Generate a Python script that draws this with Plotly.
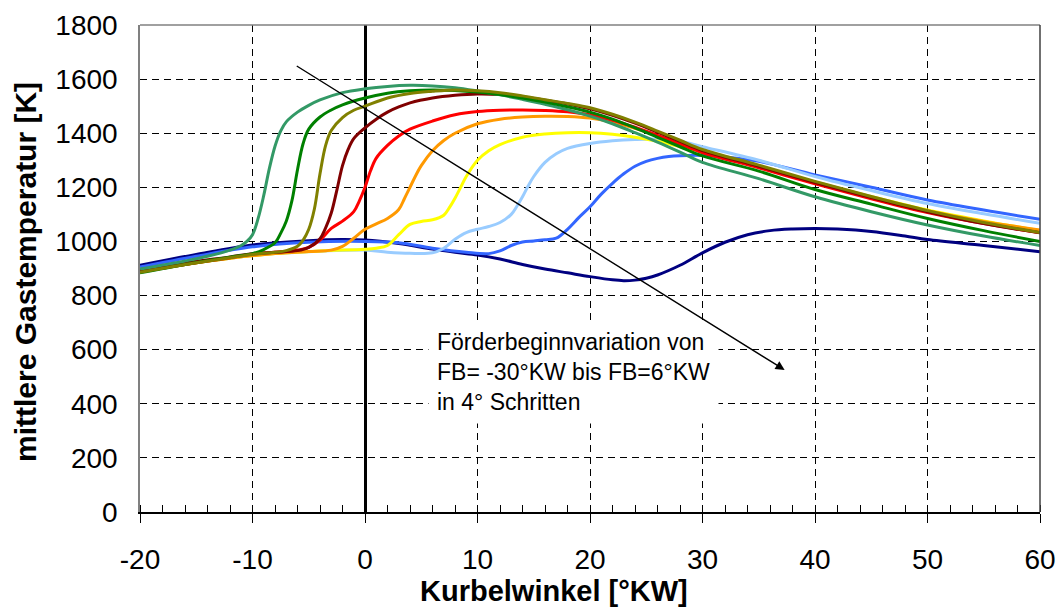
import plotly.graph_objects as go

# ---- data ----
colors = {
    "FB -30": "#339966", "FB -26": "#008000", "FB -22": "#808000", "FB -18": "#800000",
    "FB -14": "#FF0000", "FB -10": "#FF9900", "FB -6": "#FFFF00", "FB -2": "#99CCFF",
    "FB 2": "#3366FF", "FB 6": "#000080",
}

x_fb6 = [-20, -15, -10, -5, -2, 0, 3, 6, 8, 10, 12, 14, 16, 18, 20, 22, 23, 24, 25, 26, 28, 30, 32, 34, 36, 38, 40, 42, 45, 48, 50, 55, 60]
y_fb6 = [912, 952, 987, 1003, 1007, 1005, 992, 972, 960, 950, 935, 915, 898, 884, 870, 858, 855, 857, 864, 876, 912, 958, 997, 1025, 1040, 1046, 1048, 1046, 1037, 1020, 1007, 985, 962]

x_fb2 = [-20, -15, -10, -5, 0, 3, 6, 9, 11, 12, 13, 14, 15, 16, 17, 18, 19, 20, 21, 22, 23, 24, 25, 26, 27, 28, 30, 32, 35, 40, 45, 50, 55, 60]
y_fb2 = [905, 945, 980, 997, 1000, 995, 975, 960, 955, 965, 985, 998, 1002, 1006, 1012, 1045, 1088, 1128, 1175, 1215, 1250, 1278, 1296, 1307, 1314, 1317, 1318, 1312, 1296, 1246, 1200, 1153, 1116, 1082]

x_fbm2 = [-20, -16, -12, -8, -4, 0, 2, 4, 6, 7, 8, 9, 10, 11, 12, 13, 13.5, 14, 14.5, 15, 16, 17, 18, 20, 22, 24, 26, 28, 30, 35, 40, 45, 50, 55, 60]
y_fbm2 = [888, 915, 938, 955, 964, 968, 960, 956, 958, 975, 1008, 1033, 1045, 1055, 1070, 1100, 1130, 1165, 1205, 1240, 1292, 1324, 1344, 1362, 1372, 1377, 1378, 1370, 1350, 1300, 1240, 1188, 1140, 1102, 1067]

x_fbm6 = [-20, -16, -12, -8, -4, 0, 1, 2, 3, 4, 5, 6, 7, 7.5, 8, 8.5, 9, 10, 11, 12, 14, 16, 18, 20, 22, 24, 26, 28, 30, 35, 40, 45, 50, 55, 60]
y_fbm6 = [888, 915, 938, 955, 965, 971, 975, 985, 1025, 1063, 1074, 1080, 1097, 1125, 1160, 1200, 1240, 1300, 1335, 1358, 1385, 1397, 1402, 1402, 1396, 1385, 1370, 1350, 1330, 1275, 1220, 1166, 1116, 1076, 1040]

x_fbm10 = [-20, -16, -12, -8, -5, -3, -2, -1, 0, 1, 2, 3, 3.5, 4, 4.5, 5, 6, 7, 8, 10, 12, 14, 16, 18, 20, 22, 24, 26, 28, 30, 35, 40, 45, 50, 55, 60]
y_fbm10 = [888, 915, 938, 955, 963, 968, 982, 1012, 1045, 1065, 1085, 1118, 1158, 1200, 1243, 1280, 1335, 1373, 1400, 1435, 1452, 1460, 1463, 1462, 1456, 1440, 1418, 1390, 1360, 1332, 1276, 1218, 1163, 1114, 1074, 1042]

x_fbm14 = [-20, -16, -12, -10, -8, -6, -5, -4, -3, -2, -1, -0.5, 0, 0.5, 1, 2, 3, 4, 6, 8, 10, 12, 14, 16, 18, 20, 22, 24, 26, 28, 30, 35, 40, 45, 50, 55, 60]
y_fbm14 = [888, 915, 940, 953, 960, 968, 978, 1005, 1048, 1075, 1110, 1150, 1200, 1262, 1308, 1355, 1390, 1415, 1445, 1468, 1480, 1485, 1486, 1484, 1479, 1468, 1448, 1422, 1392, 1360, 1328, 1272, 1213, 1158, 1107, 1066, 1032]

x_fbm18 = [-20, -16, -12, -10, -8, -6, -5, -4, -3.5, -3, -2.5, -2, -1.5, -1, 0, 1, 2, 3, 4, 6, 8, 10, 12, 14, 16, 18, 20, 22, 24, 26, 28, 30, 35, 40, 45, 50, 55, 60]
y_fbm18 = [893, 920, 943, 955, 960, 966, 978, 1010, 1050, 1105, 1190, 1280, 1340, 1380, 1420, 1452, 1478, 1497, 1512, 1530, 1540, 1545, 1543, 1535, 1522, 1508, 1490, 1466, 1437, 1404, 1370, 1336, 1278, 1218, 1162, 1110, 1066, 1032]

x_fbm22 = [-20, -16, -12, -10, -8, -7, -6, -5.5, -5, -4.5, -4, -3.5, -3, -2, -1, 0, 2, 4, 6, 8, 10, 12, 14, 16, 18, 20, 22, 24, 26, 28, 30, 35, 40, 45, 50, 55, 60]
y_fbm22 = [886, 915, 940, 952, 960, 966, 982, 1005, 1045, 1120, 1250, 1355, 1410, 1458, 1485, 1500, 1530, 1547, 1555, 1560, 1557, 1550, 1538, 1524, 1510, 1494, 1470, 1441, 1408, 1374, 1340, 1282, 1222, 1166, 1114, 1070, 1033]

x_fbm26 = [-20, -16, -12, -10, -9, -8, -7.5, -7, -6.5, -6, -5.5, -5, -4, -3, -2, 0, 2, 4, 6, 8, 10, 12, 14, 16, 18, 20, 22, 24, 26, 28, 30, 35, 40, 45, 50, 55, 60]
y_fbm26 = [884, 915, 942, 955, 970, 995, 1030, 1075, 1150, 1265, 1362, 1415, 1460, 1486, 1505, 1530, 1548, 1557, 1560, 1558, 1552, 1543, 1530, 1515, 1498, 1478, 1452, 1420, 1385, 1350, 1316, 1260, 1192, 1138, 1085, 1040, 1000]

x_fbm30 = [-20, -16, -14, -12, -11, -10.5, -10, -9.5, -9, -8.5, -8, -7.5, -7, -6, -5, -4, -2, 0, 2, 4, 6, 8, 10, 12, 14, 16, 18, 20, 22, 24, 26, 28, 30, 35, 40, 45, 50, 55, 60]
y_fbm30 = [898, 928, 945, 968, 985, 1000, 1025, 1085, 1170, 1270, 1352, 1408, 1442, 1478, 1503, 1523, 1550, 1564, 1573, 1577, 1575, 1568, 1556, 1542, 1525, 1507, 1487, 1463, 1435, 1402, 1367, 1330, 1292, 1232, 1165, 1110, 1061, 1020, 985]

series = [
    ("FB 6", x_fb6, y_fb6),
    ("FB 2", x_fb2, y_fb2),
    ("FB -2", x_fbm2, y_fbm2),
    ("FB -6", x_fbm6, y_fbm6),
    ("FB -10", x_fbm10, y_fbm10),
    ("FB -14", x_fbm14, y_fbm14),
    ("FB -18", x_fbm18, y_fbm18),
    ("FB -30", x_fbm30, y_fbm30),
    ("FB -26", x_fbm26, y_fbm26),
    ("FB -22", x_fbm22, y_fbm22),
]

x_ticks = [-20, -10, 0, 10, 20, 30, 40, 50, 60]
y_ticks = [0, 200, 400, 600, 800, 1000, 1200, 1400, 1600, 1800]

FONT = "Liberation Sans, Arial, sans-serif"

fig = go.Figure()
for name, xs, ys in series:
    fig.add_trace(go.Scatter(
        x=xs, y=ys, mode="lines", name=name,
        line=dict(color=colors[name], width=3, shape="spline", smoothing=1.0),
        showlegend=False, hoverinfo="skip",
    ))

fig.update_layout(
    width=1059, height=611,
    margin=dict(l=140, r=19, t=25, b=99),
    paper_bgcolor="white", plot_bgcolor="white",
    font=dict(family=FONT, color="black", size=28),
    showlegend=False,
)

fig.update_xaxes(
    range=[-20, 60], tickvals=x_ticks, ticktext=[str(v) for v in x_ticks],
    automargin=False,
    showgrid=True, gridcolor="black", gridwidth=1, griddash="7px,5px",
    zeroline=True, zerolinecolor="black", zerolinewidth=3,
    showline=True, linecolor="black", linewidth=1.5,
    ticks="outside", ticklen=9, tickwidth=1.2, tickcolor="black",
    ticklabelstandoff=13,
    minor=dict(dtick=2, ticks="inside", ticklen=7, tickwidth=1, tickcolor="black", showgrid=False),
    tickfont=dict(size=28, family=FONT, color="black"),
)
fig.update_yaxes(
    range=[0, 1800], tickvals=y_ticks, ticktext=[str(v) for v in y_ticks],
    automargin=False,
    showgrid=True, gridcolor="black", gridwidth=1, griddash="7px,5px",
    zeroline=False,
    showline=True, linecolor="#808080", linewidth=1.5,
    ticks="outside", ticklen=15, tickcolor="rgba(0,0,0,0)",
    tickfont=dict(size=28, family=FONT, color="black"),
)

# axis titles
fig.add_annotation(x=(554 - 140) / 900, y=(512 - 591) / 487, xref="paper", yref="paper",
                   xanchor="center", yanchor="middle", showarrow=False,
                   text="<b>Kurbelwinkel [°KW]</b>", font=dict(size=29, family=FONT, color="black"))
fig.add_annotation(x=(25 - 140) / 900, y=(512 - 272) / 487, xref="paper", yref="paper",
                   xanchor="center", yanchor="middle", showarrow=False, textangle=-90,
                   text="<b>mittlere Gastemperatur [K]</b>", font=dict(size=30, family=FONT, color="black"))

# frame (top and right border)
fig.add_shape(type="line", xref="paper", yref="paper", x0=0, x1=1, y0=1, y1=1,
              line=dict(color="#808080", width=1.5))
fig.add_shape(type="line", xref="paper", yref="paper", x0=1, x1=1, y0=0, y1=1,
              line=dict(color="#404040", width=1.5))

# text box
fig.add_annotation(
    x=5.6, y=517, xref="x", yref="y", xanchor="left", yanchor="middle",
    text="Förderbeginnvariation von<br>FB= -30°KW bis FB=6°KW<br>in 4° Schritten",
    showarrow=False, align="left", bgcolor="white", borderpad=8,
    font=dict(size=23, family=FONT, color="black"),
)
# arrow
fig.add_annotation(
    x=37.3, y=525, ax=-6.2, ay=1652, xref="x", yref="y", axref="x", ayref="y",
    text="", showarrow=True, arrowhead=2, arrowsize=1.3, arrowwidth=1.4, arrowcolor="black",
)

fig.write_html("out.html", config={"displayModeBar": False},
               post_script="document.body.style.margin='0px';document.body.style.overflow='hidden';")
